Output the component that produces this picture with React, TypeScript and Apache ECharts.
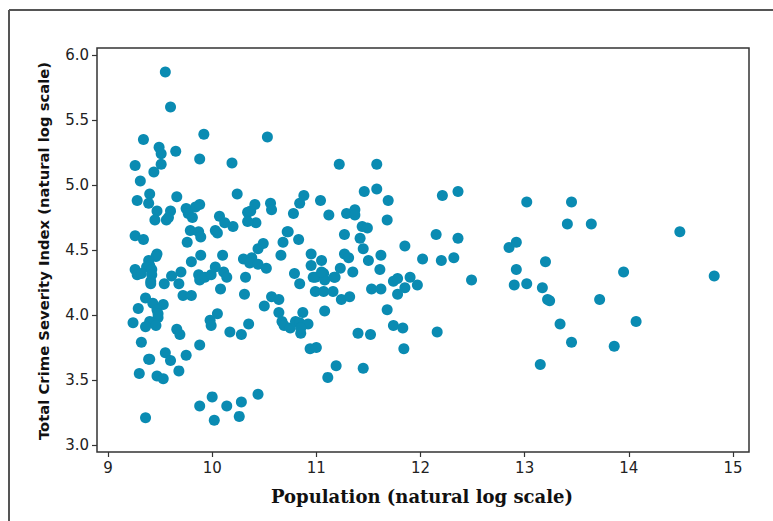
import React, { useEffect, useRef } from "react";
import * as echarts from "echarts";

// Population (natural log) and Total Crime Severity Index (natural log)
const populationLog: number[] = [
  // left cluster, upper part
  9.55, 9.60, 9.34, 9.92, 9.49, 9.51, 9.65, 9.26, 9.51, 9.44, 9.88, 10.19, 9.31, 10.24, 9.40, 9.28, 9.39, 9.66, 9.47, 9.60,
  9.45, 9.56, 9.58, 9.75, 9.77, 9.84, 9.88, 9.81, 9.79, 9.87, 9.89, 10.03, 10.05, 10.07, 10.12, 10.20, 10.34, 10.37, 10.41, 10.42,
  10.34, 9.26, 9.34, 9.76,
  // left cluster, lower part
  9.47, 9.46, 9.39, 9.40, 9.37, 9.26, 9.28, 9.42, 9.42, 9.41, 9.41, 9.32, 9.54, 9.61, 9.68, 9.70, 9.80, 9.89, 9.87, 9.88,
  9.93, 9.99, 10.03, 10.11, 10.14, 10.10, 10.08, 10.30, 10.38, 10.44, 10.36, 10.44, 10.32, 10.31, 9.36, 9.43, 9.53, 9.29, 9.47, 9.48,
  9.48, 9.40, 9.46, 9.36, 9.24, 9.72, 9.80, 9.66, 9.69, 9.98, 9.99, 10.05, 10.17, 10.28, 10.35, 9.32, 9.88, 9.39, 9.40, 9.55,
  9.60, 9.75, 9.68, 9.30, 9.47, 9.53, 10.00, 9.88, 10.14, 10.28, 10.44, 10.26, 10.02, 9.36, 10.49, 10.52, 10.50,
  // middle
  10.53, 11.22, 11.58, 11.46, 11.58, 11.69, 10.56, 10.57, 10.84, 10.88, 11.04, 10.78, 11.12, 11.29, 11.37, 11.37, 11.68, 11.44, 11.49, 11.27,
  10.72, 10.73, 10.68, 10.83, 11.42, 11.45, 11.85, 10.66, 10.95, 11.05, 11.27, 11.31, 11.50, 11.62, 10.95, 11.23, 11.61, 10.79, 10.84, 10.99,
  11.07, 11.08, 11.18, 11.35, 10.99, 11.07, 11.16, 11.24, 11.32, 11.53, 11.62, 11.74, 11.78, 11.85, 11.90, 11.97, 11.78, 11.68, 10.57, 10.64,
  10.64, 10.67, 10.69, 10.75, 10.80, 10.84, 10.85, 10.87, 10.92, 11.08, 11.40, 11.52, 11.74, 11.83, 11.84, 10.94, 11.00, 11.19, 11.45, 11.11,
  10.97, 11.05, 11.17, 10.85,
  // right
  12.21, 12.36, 13.02, 13.45, 13.41, 13.64, 14.49, 12.15, 12.36, 12.85, 12.92, 12.20, 12.32, 13.20, 12.92, 12.49, 13.95, 14.82, 12.90, 13.02,
  13.17, 13.22, 13.24, 13.72, 12.16, 13.34, 14.07, 13.45, 13.86, 13.15, 12.02,
];

const crimeSeverityLog: number[] = [
  // left cluster, upper part
  5.87, 5.60, 5.35, 5.39, 5.29, 5.24, 5.26, 5.15, 5.16, 5.10, 5.20, 5.17, 5.03, 4.93, 4.93, 4.88, 4.86, 4.91, 4.80, 4.80,
  4.73, 4.73, 4.75, 4.82, 4.78, 4.83, 4.85, 4.75, 4.65, 4.64, 4.60, 4.65, 4.63, 4.76, 4.71, 4.68, 4.79, 4.80, 4.85, 4.71,
  4.72, 4.61, 4.58, 4.56,
  // left cluster, lower part
  4.47, 4.45, 4.42, 4.38, 4.37, 4.35, 4.31, 4.35, 4.31, 4.26, 4.24, 4.32, 4.24, 4.30, 4.24, 4.33, 4.41, 4.46, 4.31, 4.27,
  4.29, 4.31, 4.37, 4.33, 4.29, 4.46, 4.20, 4.43, 4.44, 4.51, 4.40, 4.39, 4.29, 4.16, 4.13, 4.09, 4.08, 4.05, 4.04, 3.98,
  4.01, 3.95, 3.92, 3.91, 3.94, 4.15, 4.15, 3.89, 3.85, 3.96, 3.92, 4.01, 3.87, 3.85, 3.93, 3.79, 3.77, 3.66, 3.66, 3.71,
  3.65, 3.69, 3.57, 3.55, 3.53, 3.51, 3.37, 3.30, 3.30, 3.33, 3.39, 3.22, 3.19, 3.21, 4.55, 4.36, 4.07,
  // middle
  5.37, 5.16, 5.16, 4.95, 4.97, 4.88, 4.86, 4.81, 4.86, 4.92, 4.88, 4.78, 4.77, 4.78, 4.81, 4.77, 4.73, 4.68, 4.67, 4.62,
  4.64, 4.64, 4.56, 4.58, 4.59, 4.51, 4.53, 4.46, 4.47, 4.42, 4.47, 4.44, 4.42, 4.46, 4.38, 4.36, 4.35, 4.32, 4.24, 4.29,
  4.32, 4.27, 4.29, 4.33, 4.18, 4.18, 4.18, 4.12, 4.14, 4.20, 4.20, 4.26, 4.28, 4.21, 4.29, 4.23, 4.16, 4.04, 4.14, 4.12,
  4.02, 3.95, 3.92, 3.90, 3.95, 3.94, 3.86, 4.02, 3.93, 4.03, 3.86, 3.85, 3.92, 3.90, 3.74, 3.74, 3.75, 3.61, 3.59, 3.52,
  4.29, 4.33, 4.29, 3.90,
  // right
  4.92, 4.95, 4.87, 4.87, 4.70, 4.70, 4.64, 4.62, 4.59, 4.52, 4.56, 4.42, 4.44, 4.41, 4.35, 4.27, 4.33, 4.30, 4.23, 4.24,
  4.21, 4.12, 4.11, 4.12, 3.87, 3.93, 3.95, 3.79, 3.76, 3.62, 4.43,
];

const xTickValues: number[] = [9, 10, 11, 12, 13, 14, 15];
const yTickValues: number[] = [3.0, 3.5, 4.0, 4.5, 5.0, 5.5, 6.0];

const xTitle = "Population (natural log scale)";
const yTitle = "Total Crime Severity Index (natural log scale)";

export default function App() {
  const ref = useRef<HTMLDivElement>(null);

  useEffect(() => {
    if (!ref.current) return;
    const chart = echarts.init(ref.current, undefined, { renderer: "svg" });
    const n = Math.min(populationLog.length, crimeSeverityLog.length);
    const points: number[][] = [];
    for (let i = 0; i < n; i++) points.push([populationLog[i], crimeSeverityLog[i]]);

    const tickFont = {
      fontFamily: "DejaVu Sans",
      fontSize: 15,
      color: "#222",
    };

    chart.setOption({
      animation: false,
      backgroundColor: "#ffffff",
      grid: {
        left: 97,
        top: 48,
        width: 652,
        height: 404,
        show: true,
        borderColor: "#333",
        borderWidth: 1.5,
        backgroundColor: "transparent",
        containLabel: false,
        outerBoundsMode: "none",
      },
      xAxis: {
        type: "value",
        min: 8.894,
        max: 15.154,
        axisLine: { show: false },
        splitLine: { show: false },
        axisTick: {
          show: true,
          length: 5,
          lineStyle: { color: "#333", width: 1.2 },
          customValues: xTickValues,
        },
        axisLabel: {
          ...tickFont,
          margin: 8,
          customValues: xTickValues,
          formatter: (v: number) => String(Math.round(v)),
        },
      },
      yAxis: {
        type: "value",
        min: 2.946,
        max: 6.054,
        axisLine: { show: false },
        splitLine: { show: false },
        axisTick: {
          show: true,
          length: 5,
          lineStyle: { color: "#333", width: 1.2 },
          customValues: yTickValues,
        },
        axisLabel: {
          ...tickFont,
          margin: 8,
          customValues: yTickValues,
          formatter: (v: number) => v.toFixed(1),
        },
      },
      graphic: [
        {
          type: "line",
          shape: { x1: 9, y1: 10, x2: 773, y2: 10 },
          style: { stroke: "#555", lineWidth: 2 },
          silent: true,
        },
        {
          type: "line",
          shape: { x1: 9, y1: 10, x2: 9, y2: 521 },
          style: { stroke: "#555", lineWidth: 2 },
          silent: true,
        },
        {
          type: "text",
          x: 422,
          y: 496,
          style: {
            text: xTitle,
            x: 0,
            y: 0,
            align: "center",
            verticalAlign: "middle",
            fontFamily: "DejaVu Serif",
            fontWeight: "bold",
            fontSize: 18,
            fill: "#111",
          },
          silent: true,
        },
        {
          type: "text",
          x: 43,
          y: 251,
          rotation: Math.PI / 2,
          style: {
            text: yTitle,
            x: 0,
            y: 0,
            align: "center",
            verticalAlign: "middle",
            fontFamily: "DejaVu Sans",
            fontWeight: "bold",
            fontSize: 14.8,
            fill: "#111",
          },
          silent: true,
        },
      ],
      series: [
        {
          type: "scatter",
          data: points,
          symbol: "circle",
          symbolSize: 11,
          itemStyle: { color: "#0a8bb2", opacity: 1 },
          emphasis: { disabled: true },
        },
      ],
    });
    return () => chart.dispose();
  }, []);

  return (
    <div
      ref={ref}
      style={{ position: "fixed", left: 0, top: 0, width: 773, height: 521 }}
    />
  );
}
